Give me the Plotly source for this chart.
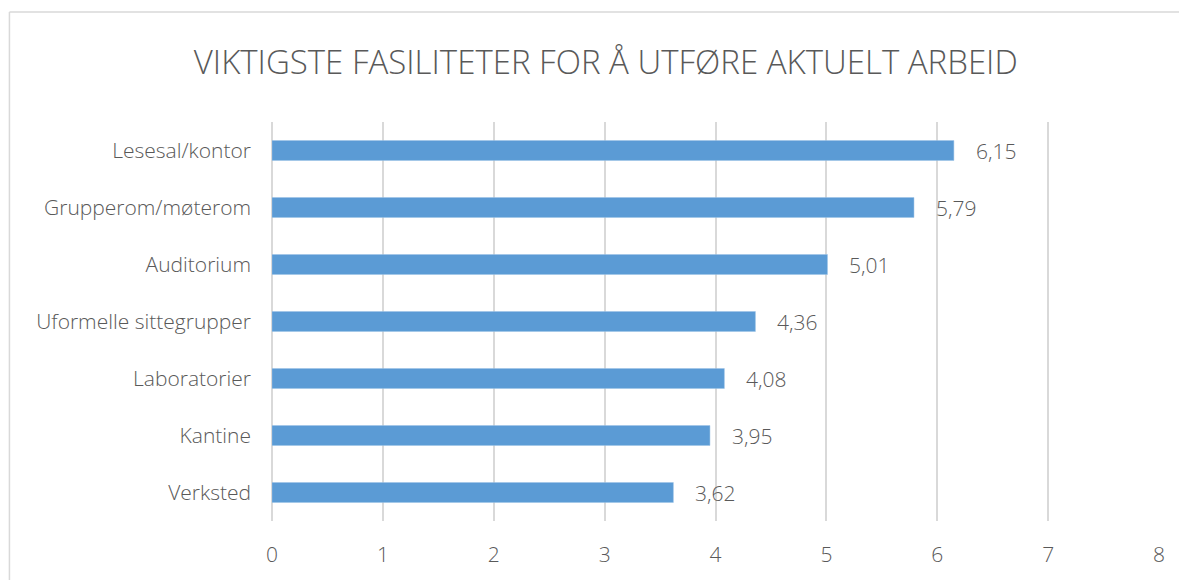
import plotly.graph_objects as go

# data
categories = ["Lesesal/kontor", "Grupperom/møterom", "Auditorium",
              "Uformelle sittegrupper", "Laboratorier", "Kantine", "Verksted"]
values = [6.15, 5.79, 5.01, 4.36, 4.08, 3.95, 3.62]
x_ticks = [0, 1, 2, 3, 4, 5, 6, 7, 8]

FONT = "Open Sans"
GREY = "#595959"

# the page puts the figure 8px in from the top-left corner
W, H = 1179, 572

fig = go.Figure()

fig.add_trace(go.Bar(
    y=categories, x=values, orientation="h",
    marker=dict(color="#5B9BD5", line=dict(color="#9DC3E6", width=0.5)),
    width=0.35, hoverinfo="skip",
))

# value labels, Norwegian decimal comma
for cat, v in zip(categories, values):
    fig.add_annotation(x=v, y=cat, text=f"{v:.2f}".replace(".", ","),
                       showarrow=False, xanchor="left", xshift=20,
                       font=dict(family=FONT, size=21, color=GREY, weight=300))

# chart frame (only top and left edges are inside the crop)
fig.add_shape(type="line", xref="paper", yref="paper", x0=-0.296, x1=1.2,
              y0=1.276, y1=1.276, line=dict(color="#d9d9d9", width=1.5))
fig.add_shape(type="line", xref="paper", yref="paper", x0=-0.296, x1=-0.296,
              y0=1.276, y1=-0.2, line=dict(color="#d9d9d9", width=1.5))

fig.update_layout(
    width=W, height=H,
    margin=dict(l=264, r=28, t=114, b=56),
    paper_bgcolor="white", plot_bgcolor="white",
    showlegend=False,
    title=dict(text="VIKTIGSTE FASILITETER FOR Å UTFØRE AKTUELT ARBEID",
               x=0.507, xanchor="center", y=1 - 54 / H, yanchor="middle",
               font=dict(family=FONT, size=33, color=GREY, weight=300)),
    xaxis=dict(range=[0, 8], tickvals=x_ticks, showgrid=True,
               gridcolor="#d9d9d9", gridwidth=1.5, zeroline=True,
               zerolinecolor="#d9d9d9", zerolinewidth=1.5, showline=False,
               ticks="", ticklabelstandoff=19,
               tickfont=dict(family=FONT, size=21, color=GREY, weight=300)),
    yaxis=dict(categoryorder="array", categoryarray=categories[::-1],
               showgrid=False, zeroline=False, showline=False, ticks="",
               ticklabelstandoff=20,
               tickfont=dict(family=FONT, size=21, color=GREY, weight=300)),
)

fig.write_html("out.html")
